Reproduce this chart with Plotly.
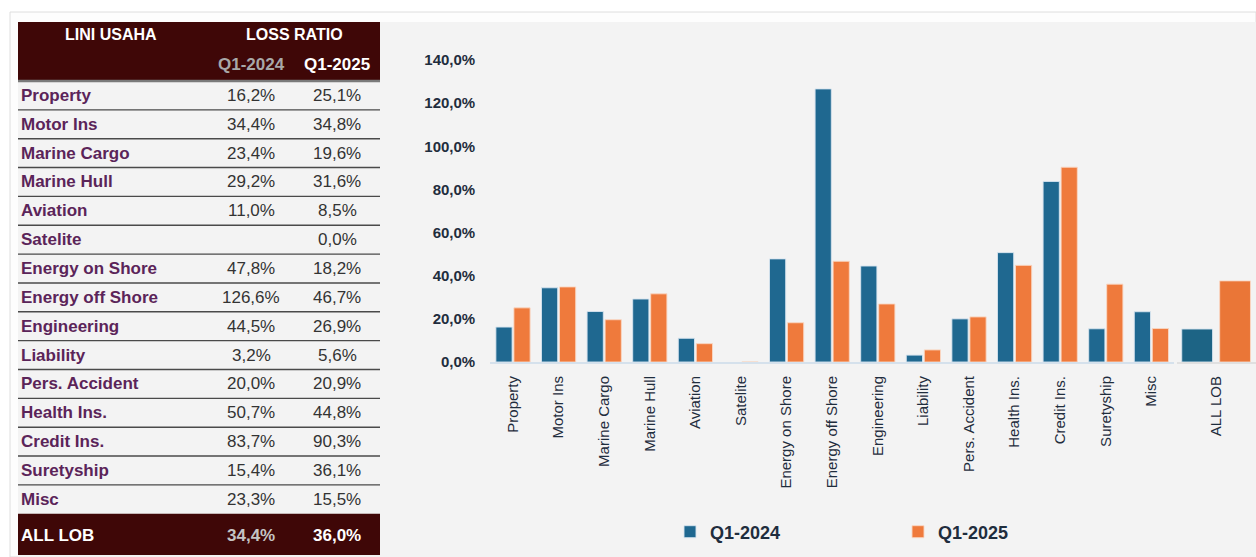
import plotly.graph_objects as go

# ---------------- data ----------------
categories = ["Property", "Motor Ins", "Marine Cargo", "Marine Hull", "Aviation", "Satelite",
              "Energy on Shore", "Energy off Shore", "Engineering", "Liability", "Pers. Accident",
              "Health Ins.", "Credit Ins.", "Suretyship", "Misc"]
q1_2024 = [16.2, 34.4, 23.4, 29.2, 11.0, None, 47.8, 126.6, 44.5, 3.2, 20.0, 50.7, 83.7, 15.4, 23.3]
q1_2025 = [25.1, 34.8, 19.6, 31.6, 8.5, 0.0, 18.2, 46.7, 26.9, 5.6, 20.9, 44.8, 90.3, 36.1, 15.5]
total_label = "ALL LOB"
total_table = [34.4, 36.0]      # as printed in the table
total_chart = [15.3, 37.6]      # as drawn in the chart
series_names = ["Q1-2024", "Q1-2025"]
y_ticks = [0, 20, 40, 60, 80, 100, 120, 140]
header_left = "LINI USAHA"
header_right = "LOSS RATIO"

# ---------------- helpers ----------------
W, H = 1256, 557
def fx(px): return px / W
def fy(py): return 1 - py / H
def fmt(v): return "" if v is None else f"{v:.1f}".replace(".", ",") + "%"

BLUE = "#1f6890"
ORANGE = "#ef7a3c"
MAROON = "#3f0707"
DARK = "#1f2d3d"
PURPLE = "#5b2459"

fig = go.Figure()

fig.add_trace(go.Bar(name=series_names[0], x=categories, y=q1_2024, marker_color=BLUE,
                     marker_line=dict(color="rgba(215,228,240,0.9)", width=1),
                     xaxis="x", yaxis="y"))
fig.add_trace(go.Bar(name=series_names[1], x=categories, y=q1_2025, marker_color=ORANGE,
                     marker_line=dict(color="rgba(250,215,195,0.9)", width=1),
                     xaxis="x", yaxis="y"))
fig.add_trace(go.Bar(name=series_names[0], x=[total_label], y=[total_chart[0]], marker_color="#1d6485",
                     marker_line=dict(color="rgba(215,228,240,0.9)", width=1),
                     width=0.39, offset=-0.44, showlegend=False, xaxis="x2", yaxis="y"))
fig.add_trace(go.Bar(name=series_names[1], x=[total_label], y=[total_chart[1]], marker_color="#ea7637",
                     marker_line=dict(color="rgba(250,215,195,0.9)", width=1),
                     width=0.39, offset=0.04, showlegend=False, xaxis="x2", yaxis="y"))

# ---------------- table (shapes + annotations) ----------------
TX0, TX1 = 18, 380
HY0, HY1 = 22, 80
R0, RH = 81, 28.85
n = len(categories)
ALL_Y0 = R0 + n * RH
ALL_Y1 = 555
C1, C2 = 251, 337

shapes = [
    dict(type="rect", xref="paper", yref="paper", x0=fx(10), x1=fx(W), y0=fy(H), y1=fy(12),
         fillcolor="#fdfdfd", line=dict(color="#dedede", width=1), layer="below"),
    dict(type="rect", xref="paper", yref="paper", x0=fx(TX0), x1=fx(W), y0=fy(H), y1=fy(22),
         fillcolor="#f3f3f3", line=dict(width=0), layer="below"),
    dict(type="rect", xref="paper", yref="paper", x0=fx(TX0), x1=fx(TX1), y0=fy(HY1), y1=fy(HY0),
         fillcolor=MAROON, line=dict(width=0), layer="below"),
    dict(type="line", xref="paper", yref="paper", x0=fx(TX0), x1=fx(TX1), y0=fy(HY1 + 1), y1=fy(HY1 + 1),
         line=dict(color="#7a7a7a", width=2.5), layer="below"),
    dict(type="rect", xref="paper", yref="paper", x0=fx(TX0), x1=fx(TX1), y0=fy(ALL_Y1), y1=fy(ALL_Y0),
         fillcolor=MAROON, line=dict(width=0), layer="below"),
]
for i in range(n - 1):
    yl = R0 + (i + 1) * RH
    shapes.append(dict(type="line", xref="paper", yref="paper", x0=fx(TX0), x1=fx(TX1),
                       y0=fy(yl), y1=fy(yl), line=dict(color="#4a4a4a", width=1.4), layer="below"))

annotations = []
def ann(text, x, y, size, color, bold=False, xanchor="center"):
    annotations.append(dict(text=text, x=fx(x), y=fy(y), xref="paper", yref="paper",
                            xanchor=xanchor, yanchor="middle", showarrow=False,
                            font=dict(family="Liberation Sans, Arial, sans-serif", size=size,
                                      color=color, weight=700 if bold else 400)))

ann(header_left, 111, 34, 16, "white", True)
ann(header_right, 294, 34, 16, "white", True)
ann(series_names[0], C1, 64, 17, "#a8a8a8", True)
ann(series_names[1], C2, 64, 17, "white", True)
for i, cat in enumerate(categories):
    yc = R0 + i * RH + RH / 2
    ann(cat, 19, yc, 17, PURPLE, True, xanchor="left")
    ann(fmt(q1_2024[i]), C1, yc, 17, "#333333")
    ann(fmt(q1_2025[i]), C2, yc, 17, "#333333")
yc = (ALL_Y0 + ALL_Y1) / 2 + 1
ann(total_label, 19, yc, 17, "white", True, xanchor="left")
ann(fmt(total_table[0]), C1, yc, 17, "#c4c4c4", True)
ann(fmt(total_table[1]), C2, yc, 17, "white", True)

tickfont = dict(family="Liberation Sans, Arial, sans-serif", size=15, color=DARK)

fig.update_layout(
    width=W, height=H, autosize=False,
    margin=dict(l=0, r=0, t=0, b=0, autoexpand=False),
    paper_bgcolor="white", plot_bgcolor="rgba(0,0,0,0)",
    separators=",.",
    barmode="group", bargap=0.21, bargroupgap=0.1,
    shapes=shapes, annotations=annotations,
    xaxis=dict(domain=[fx(490.2), fx(1174.2)], type="category", anchor="y", automargin=False,
               showline=True, linecolor="#d5e1ec", linewidth=2, showgrid=False,
               ticks="", tickangle=-90, tickfont=tickfont, ticklabelstandoff=6, fixedrange=True),
    xaxis2=dict(domain=[fx(1177), 1.0], type="category", anchor="y", automargin=False,
                showline=True, linecolor="#e0e0e0", linewidth=2, showgrid=False,
                ticks="", tickangle=-90, tickfont=tickfont, ticklabelstandoff=6, fixedrange=True),
    yaxis=dict(domain=[fy(362), fy(60)], range=[0, 140], tickvals=y_ticks,
               ticktext=[fmt(v) for v in y_ticks], automargin=False,
               showgrid=False, zeroline=False, showline=False,
               ticks="", ticklabelstandoff=14, fixedrange=True,
               tickfont=dict(family="Liberation Sans, Arial, sans-serif", size=15, color=DARK, weight=700)),
    legend=dict(orientation="h", x=fx(670), y=fy(532), xanchor="left", yanchor="middle",
                bgcolor="rgba(0,0,0,0)", entrywidth=183, entrywidthmode="pixels",
                font=dict(family="Liberation Sans, Arial, sans-serif", size=18, color=DARK, weight=700)),
    showlegend=True,
)

fig.write_html("out.html", config={"displayModeBar": False},
               post_script="document.body.style.margin='0';document.body.style.overflow='hidden';")
